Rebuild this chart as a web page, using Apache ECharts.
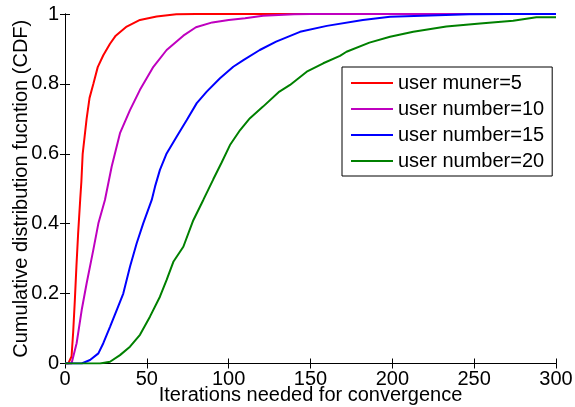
<!DOCTYPE html>
<html>
<head>
<meta charset="utf-8">
<script src="https://cdn.jsdelivr.net/npm/echarts@6/dist/echarts.min.js"></script>
<style>html,body{margin:0;padding:0;background:#fff;}#c{width:575px;height:407px;}</style>
</head>
<body>
<div id="c"></div>
<script>
var seriesNames = ['user muner=5', 'user number=10', 'user number=15', 'user number=20'];
var xTicks = [0, 50, 100, 150, 200, 250, 300];
var yTicks = [0, 0.2, 0.4, 0.6, 0.8, 1];

var redX = [0, 2, 4, 5, 6, 7, 8, 9.3, 10, 10.8, 12, 13.2, 15, 17.3, 20, 23.4, 27.5, 31, 37.7, 45.8, 56, 68, 80, 300];
var redY = [0, 0, 0.02, 0.09, 0.18, 0.28, 0.37, 0.47, 0.52, 0.6, 0.65, 0.7, 0.76, 0.8, 0.848, 0.882, 0.915, 0.938, 0.964, 0.983, 0.993, 0.999, 1, 1];

var magX = [0, 4, 7.1, 10.2, 13.2, 17.3, 20.4, 24.4, 28.5, 33.6, 39.7, 45.8, 54, 62.1, 72.3, 80, 90, 100, 110, 121, 140, 150, 300];
var magY = [0, 0, 0.058, 0.153, 0.229, 0.325, 0.401, 0.468, 0.563, 0.659, 0.725, 0.783, 0.849, 0.897, 0.938, 0.962, 0.976, 0.983, 0.988, 0.995, 0.999, 1, 1];

var bluX = [0, 10.2, 15.3, 20.4, 23.4, 27.5, 31.6, 35.6, 39.7, 43.8, 47.8, 53, 55, 58, 62.1, 68.2, 74.4, 80.5, 86.6, 94.7, 102.8, 109, 119, 129, 143.6, 160, 182, 198.6, 223, 247, 270, 300];
var bluY = [0, 0, 0.01, 0.029, 0.058, 0.105, 0.153, 0.2, 0.277, 0.344, 0.401, 0.468, 0.506, 0.554, 0.601, 0.649, 0.697, 0.745, 0.778, 0.816, 0.849, 0.868, 0.897, 0.921, 0.949, 0.966, 0.983, 0.992, 0.996, 0.999, 1, 1];

var grnX = [0, 21.4, 27.5, 33.6, 39.7, 45.8, 51.9, 58, 62.1, 66.2, 72.3, 78.4, 84.5, 90.6, 95.7, 100.8, 107, 113, 121, 131, 137.5, 147.7, 157.8, 168, 172, 186, 198.6, 212.8, 233, 253.6, 273.8, 288, 300];
var grnY = [0, 0, 0.005, 0.024, 0.048, 0.082, 0.134, 0.191, 0.239, 0.291, 0.334, 0.41, 0.468, 0.527, 0.575, 0.625, 0.668, 0.702, 0.735, 0.778, 0.797, 0.835, 0.859, 0.88, 0.892, 0.918, 0.935, 0.949, 0.964, 0.973, 0.981, 0.991, 0.991];

var colors = ['#ff0000', '#bf00bf', '#0000ff', '#008000'];
var FONT = '"Liberation Sans", Arial, Helvetica, sans-serif';
var FS = 20;

function pairs(xs, ys) { return xs.map(function (x, i) { return [x, ys[i]]; }); }
var allData = [pairs(redX, redY), pairs(magX, magY), pairs(bluX, bluY), pairs(grnX, grnY)];

var axisLine = { show: true, lineStyle: { color: '#000', width: 1 } };
var tick = { show: true, inside: true, length: 5, lineStyle: { color: '#000', width: 1 } };

var chart = echarts.init(document.getElementById('c'), null, { renderer: 'canvas' });
chart.setOption({
  animation: false,
  backgroundColor: '#fff',
  textStyle: { fontFamily: FONT },
  grid: { left: 65, right: 19, top: 14, bottom: 43.5, containLabel: false, outerBoundsMode: 'none' },
  legend: {
    orient: 'vertical',
    left: 342, top: 67,
    padding: [6, 8, 5, 9],
    itemGap: 6,
    itemWidth: 42, itemHeight: 2,
    icon: 'rect',
    borderColor: '#000', borderWidth: 1,
    backgroundColor: '#fff',
    textStyle: { fontFamily: FONT, fontSize: FS, color: '#000' },
    data: seriesNames
  },
  xAxis: [{
    type: 'value', min: xTicks[0], max: xTicks[xTicks.length - 1], interval: 50,
    position: 'bottom',
    name: 'Iterations needed for convergence', nameLocation: 'middle', nameGap: 22,
    nameMoveOverlap: false,
    nameTextStyle: { fontFamily: FONT, fontSize: FS, color: '#000' },
    axisLine: axisLine, axisTick: tick,
    axisLabel: { color: '#000', fontFamily: FONT, fontSize: FS, margin: 6 },
    splitLine: { show: false }
  }, {
    type: 'value', min: 0, max: 300, interval: 50, position: 'top',
    axisLine: axisLine, axisTick: tick, axisLabel: { show: false }, splitLine: { show: false }
  }],
  yAxis: [{
    type: 'value', min: yTicks[0], max: yTicks[yTicks.length - 1], interval: 0.2,
    position: 'left',
    name: 'Cumulative distribution fucntion (CDF)', nameLocation: 'middle', nameGap: 34,
    nameMoveOverlap: false,
    nameTextStyle: { fontFamily: FONT, fontSize: FS, color: '#000' },
    axisLine: axisLine, axisTick: tick,
    axisLabel: { color: '#000', fontFamily: FONT, fontSize: FS, margin: 6 },
    splitLine: { show: false }
  }, {
    type: 'value', min: 0, max: 1, interval: 0.2, position: 'right',
    axisLine: axisLine, axisTick: tick, axisLabel: { show: false }, splitLine: { show: false }
  }],
  series: seriesNames.map(function (n, i) {
    return {
      name: n, type: 'line', xAxisIndex: 0, yAxisIndex: 0,
      data: allData[i], showSymbol: false, symbol: 'none',
      lineStyle: { color: colors[i], width: 2 },
      itemStyle: { color: colors[i] },
      z: 2 + i
    };
  })
});
</script>
</body>
</html>
